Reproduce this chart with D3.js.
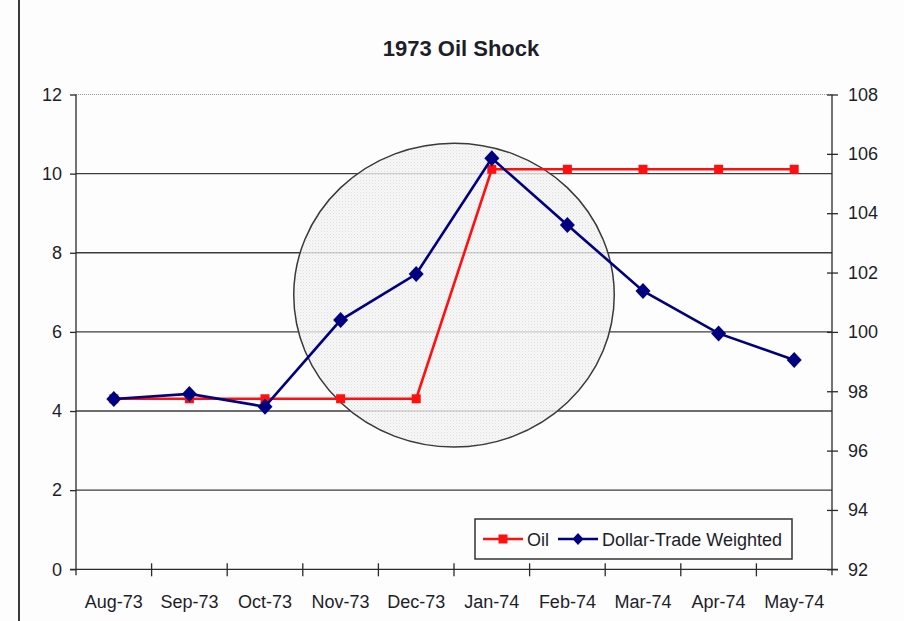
<!DOCTYPE html>
<html>
<head>
<meta charset="utf-8">
<script src="https://cdn.jsdelivr.net/npm/d3@7"></script>
<style>
  body { margin: 0; background: #fdfdfd; }
  svg text { font-family: "Liberation Sans", Arial, sans-serif; fill: #1e1e2a; }
</style>
</head>
<body>
<div id="chart"></div>
<script>
const months = ["Aug-73", "Sep-73", "Oct-73", "Nov-73", "Dec-73", "Jan-74", "Feb-74", "Mar-74", "Apr-74", "May-74"]
const oil = [4.31, 4.31, 4.31, 4.31, 4.31, 10.11, 10.11, 10.11, 10.11, 10.11]
const dollar = [97.74, 97.91, 97.48, 100.4, 101.95, 105.85, 103.6, 101.38, 99.95, 99.05]
const leftTicks = [0, 2, 4, 6, 8, 10, 12]
const rightTicks = [92, 94, 96, 98, 100, 102, 104, 106, 108]
// highlight ellipse in data units: centre on the Dec/Jan boundary
const highlight = {band: 5, value: 6.93, bands: 2.12, spread: 3.84}

const width = 904
const height = 621
const margin = {top: 94.5, right: 72, bottom: 51.7, left: 76}

const svg = d3.select("#chart")
    .append("svg")
    .attr("width", width)
    .attr("height", height)

const layer_bg = svg.append("g")
const layer_grid = svg.append("g")
const layer_shape = svg.append("g")
const layer_axes = svg.append("g")
const layer_lines = svg.append("g")
const layer_legend = svg.append("g")
const layer_title = svg.append("g")

const x = d3.scaleBand()
    .domain(months)
    .range([margin.left, width - margin.right])

const y = d3.scaleLinear()
    .domain([0, 12])
    .range([height - margin.bottom, margin.top])

const y2 = d3.scaleLinear()
    .domain([92, 108])
    .range([height - margin.bottom, margin.top])

const cx = d => x(d) + x.bandwidth() / 2

layer_bg.append("rect")
    .attr("width", width)
    .attr("height", height)
    .attr("fill", "#fdfdfd")

// left frame edge of the original picture
layer_bg.append("line")
    .attr("x1", 19).attr("x2", 19)
    .attr("y1", 0).attr("y2", height)
    .attr("stroke", "#3a3a3a")
    .attr("stroke-width", 2)

// gridlines
layer_grid.selectAll("line")
    .data(leftTicks.filter(d => d > 0 && d < 12))
    .join("line")
    .attr("x1", margin.left)
    .attr("x2", width - margin.right)
    .attr("y1", d => y(d))
    .attr("y2", d => y(d))
    .attr("stroke", "#3c3c3c")
    .attr("stroke-width", 1.4)

layer_grid.append("line")
    .attr("x1", margin.left)
    .attr("x2", width - margin.right)
    .attr("y1", y(12))
    .attr("y2", y(12))
    .attr("stroke", "#9a9a9a")
    .attr("stroke-dasharray", "1,1")

// stippled ellipse
const defs = svg.append("defs")
const pat = defs.append("pattern")
    .attr("id", "stipple")
    .attr("width", 3).attr("height", 3)
    .attr("patternUnits", "userSpaceOnUse")
pat.append("rect").attr("width", 3).attr("height", 3).attr("fill", "#f5f5f5")
pat.append("rect").attr("width", 1).attr("height", 1).attr("fill", "#d6d6d6")
pat.append("rect").attr("x", 1.5).attr("y", 1.5).attr("width", 1).attr("height", 1).attr("fill", "#e2e2e2")

layer_shape.append("ellipse")
    .attr("cx", x(months[highlight.band]))
    .attr("cy", y(highlight.value))
    .attr("rx", highlight.bands * x.step())
    .attr("ry", y(0) - y(highlight.spread))
    .attr("fill", "url(#stipple)")
    .attr("fill-opacity", 0.8)
    .attr("stroke", "#3a3a3a")
    .attr("stroke-width", 1.5)

// left axis
layer_axes.append("g")
    .attr("transform", `translate(${margin.left},0)`)
    .call(d3.axisLeft(y).tickValues(leftTicks).tickSize(6).tickPadding(8).tickFormat(d3.format("d")))
    .call(g => g.select(".domain").attr("d", `M0,${y(12)}V${y(0) + 6}`))
    .call(g => g.selectAll("line, path").attr("stroke", "#2a2a2a").attr("stroke-width", 1.3))
    .call(g => g.selectAll("text").attr("font-size", 18).attr("fill", "#1e1e2a"))

// right axis
layer_axes.append("g")
    .attr("transform", `translate(${width - margin.right},0)`)
    .call(d3.axisRight(y2).tickValues(rightTicks).tickSize(6).tickPadding(10))
    .call(g => g.select(".domain").attr("d", `M0,${y2(108)}V${y2(92) + 6}`))
    .call(g => g.selectAll(".tick line").attr("x1", -5))
    .call(g => g.selectAll("line, path").attr("stroke", "#2a2a2a").attr("stroke-width", 1.3))
    .call(g => g.selectAll("text").attr("font-size", 18).attr("fill", "#1e1e2a"))

// bottom axis: labels centred in bands, ticks on band edges
const xAxis = layer_axes.append("g")
    .attr("transform", `translate(0,${y(0)})`)
xAxis.append("line")
    .attr("x1", margin.left - 6)
    .attr("x2", width - margin.right + 6)
    .attr("stroke", "#2a2a2a")
    .attr("stroke-width", 1.3)
xAxis.selectAll(".edge")
    .data(months.slice(1))
    .join("line")
    .attr("class", "edge")
    .attr("x1", d => x(d))
    .attr("x2", d => x(d))
    .attr("y1", -6)
    .attr("y2", 7)
    .attr("stroke", "#2a2a2a")
    .attr("stroke-width", 1.3)
xAxis.selectAll("text")
    .data(months)
    .join("text")
    .attr("x", d => cx(d))
    .attr("y", 39)
    .attr("text-anchor", "middle")
    .attr("font-size", 18)
    .text(d => d)

// series
const lineOil = d3.line().x((d, i) => cx(months[i])).y(d => y(d))
const lineDollar = d3.line().x((d, i) => cx(months[i])).y(d => y2(d))
const diamond = "M0,-8L7.5,0L0,8L-7.5,0Z"

layer_lines.append("path")
    .attr("d", lineOil(oil))
    .attr("fill", "none")
    .attr("stroke", "#ff1010")
    .attr("stroke-width", 2.6)
layer_lines.append("g")
    .selectAll("rect")
    .data(oil)
    .join("rect")
    .attr("x", (d, i) => cx(months[i]) - 4.5)
    .attr("y", d => y(d) - 4.5)
    .attr("width", 9)
    .attr("height", 9)
    .attr("fill", "#ff1010")

layer_lines.append("path")
    .attr("d", lineDollar(dollar))
    .attr("fill", "none")
    .attr("stroke", "#000080")
    .attr("stroke-width", 2.6)
layer_lines.append("g")
    .selectAll("path")
    .data(dollar)
    .join("path")
    .attr("transform", (d, i) => `translate(${cx(months[i])},${y2(d)})`)
    .attr("d", diamond)
    .attr("fill", "#000080")

// legend
const legend = layer_legend.attr("transform", "translate(475,519)")
legend.append("rect")
    .attr("width", 317)
    .attr("height", 40)
    .attr("fill", "#fdfdfd")
    .attr("stroke", "#333")
    .attr("stroke-width", 1.5)
const items = [
    {name: "Oil", color: "#ff1010", x0: 8, tx: 52, marker: "square"},
    {name: "Dollar-Trade Weighted", color: "#000080", x0: 83, tx: 127, marker: "diamond"}
]
items.forEach(it => {
    legend.append("line")
        .attr("x1", it.x0).attr("x2", it.x0 + 40)
        .attr("y1", 20).attr("y2", 20)
        .attr("stroke", it.color)
        .attr("stroke-width", 2.6)
    if (it.marker === "square") {
        legend.append("rect")
            .attr("x", it.x0 + 20 - 4.5).attr("y", 15.5)
            .attr("width", 9).attr("height", 9)
            .attr("fill", it.color)
    } else {
        legend.append("path")
            .attr("transform", `translate(${it.x0 + 20},20)`)
            .attr("d", "M0,-6L5.5,0L0,6L-5.5,0Z")
            .attr("fill", it.color)
    }
    legend.append("text")
        .attr("x", it.tx)
        .attr("y", 26.5)
        .attr("font-size", 18)
        .text(it.name)
})

layer_title.append("text")
    .attr("x", 461)
    .attr("y", 56)
    .attr("text-anchor", "middle")
    .attr("font-size", 22)
    .attr("font-weight", "bold")
    .text("1973 Oil Shock")
</script>
</body>
</html>
